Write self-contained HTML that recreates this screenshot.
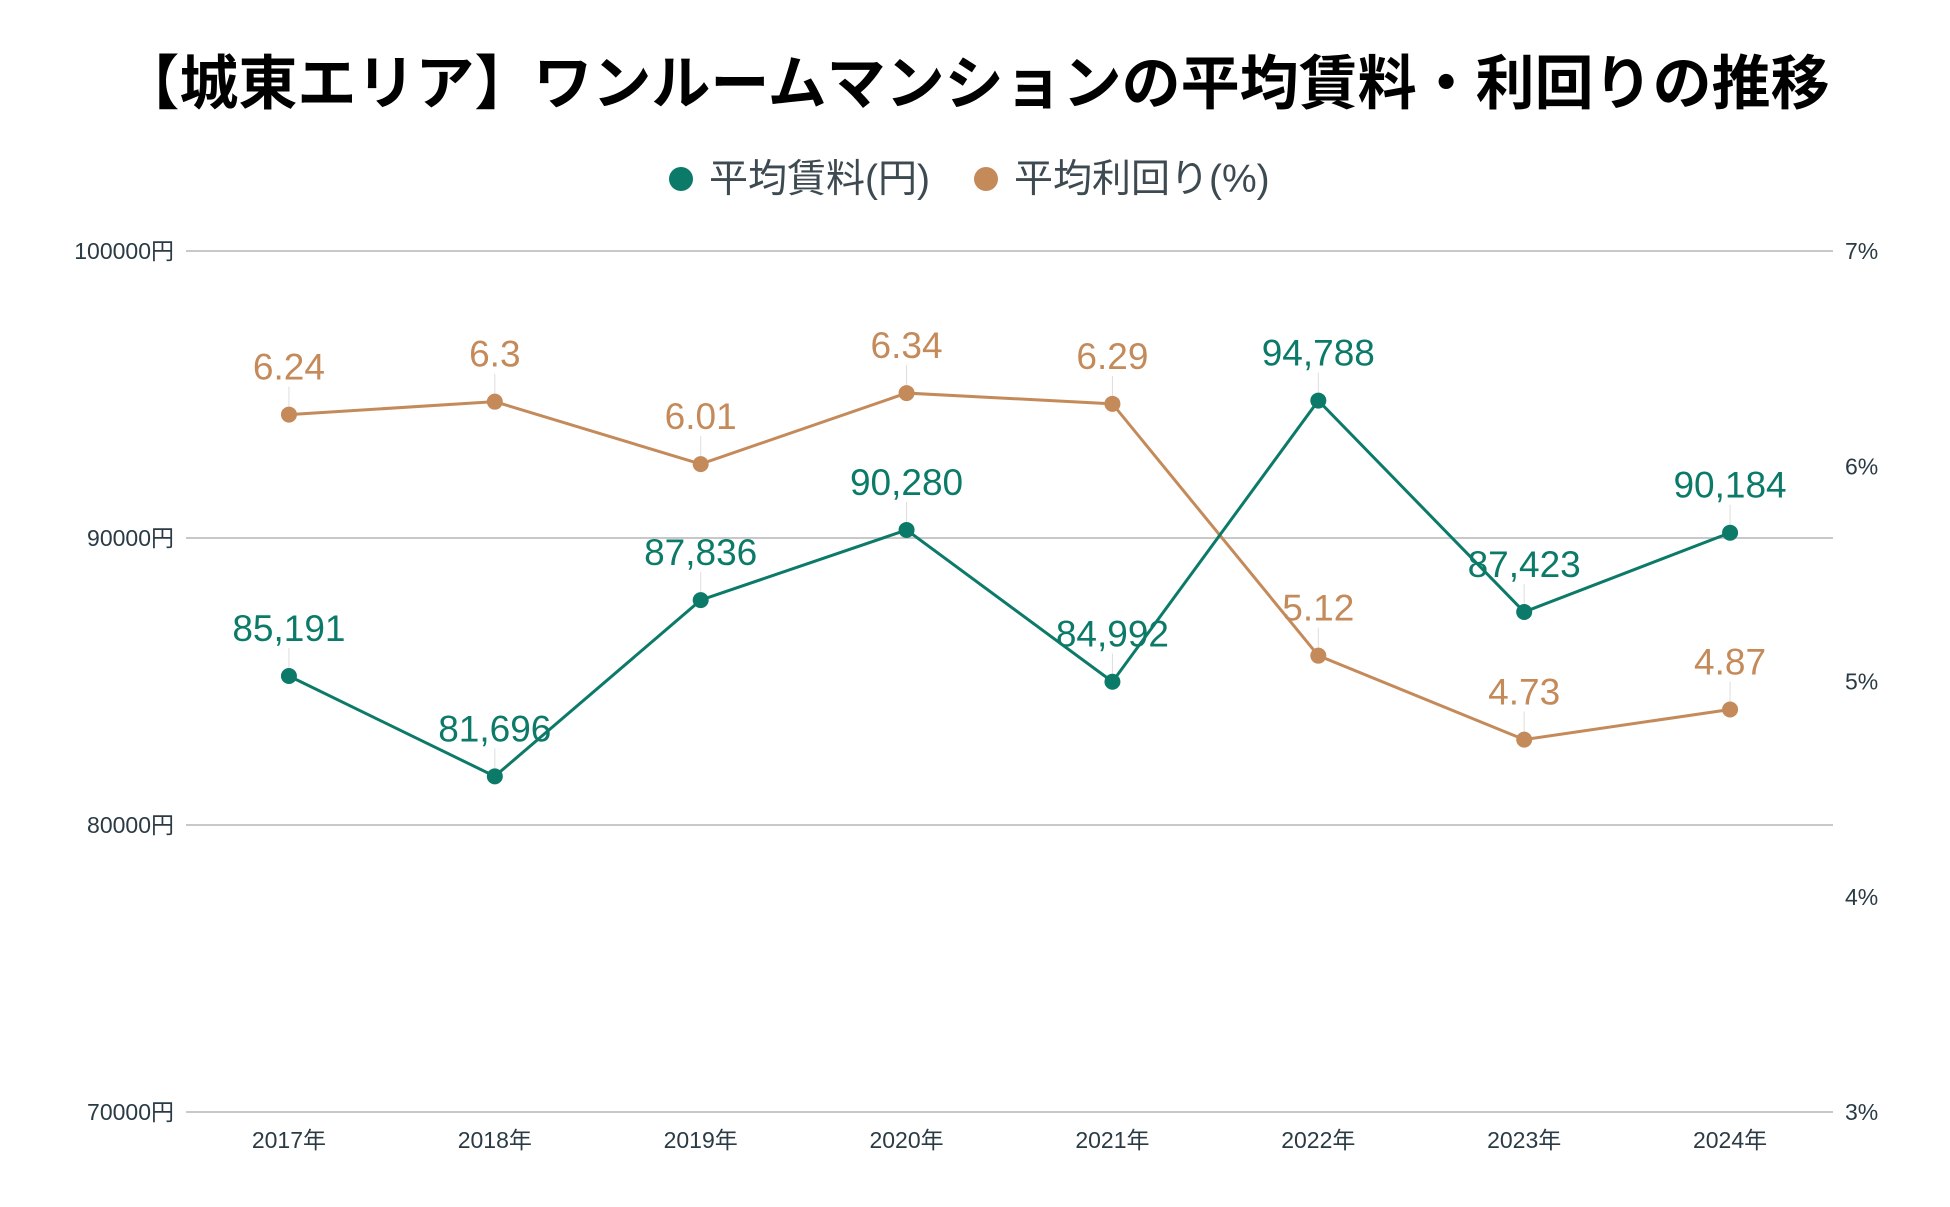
<!DOCTYPE html>
<html><head><meta charset="utf-8"><style>
body{margin:0;background:#fff;}
svg{display:block;font-family:"Liberation Sans","Noto Sans CJK JP",sans-serif;}
</style></head><body>
<svg id="chart" width="1950" height="1207" viewBox="0 0 1950 1207">
<text x="975" y="104" text-anchor="middle" font-size="59" font-weight="bold" fill="#000">【城東エリア】ワンルームマンションの平均賃料・利回りの推移</text>
<g>
<circle cx="681" cy="179" r="12" fill="#0c7a68"/>
<text x="709" y="192" font-size="39" fill="#3d4a52">平均賃料(円)</text>
<circle cx="986" cy="179" r="12" fill="#c48a5a"/>
<text x="1014" y="192" font-size="39" fill="#3d4a52">平均利回り(%)</text>
</g>
<g id="grid"></g><g id="axes"></g><g id="series"></g>
</svg>
<script>
const categories=["2017年","2018年","2019年","2020年","2021年","2022年","2023年","2024年"];
const rentValues=[85191,81696,87836,90280,84992,94788,87423,90184];
const yieldValues=[6.24,6.3,6.01,6.34,6.29,5.12,4.73,4.87];
const leftTicks=[70000,80000,90000,100000];
const rightTicks=[3,4,5,6,7];
const NS="http://www.w3.org/2000/svg";
const X0=186,X1=1833,YT=251,YB=1112;
const band=(X1-X0)/categories.length;
const xs=i=>X0+band*(i+0.5);
const yL=v=>YB-(v-70000)/30000*(YB-YT);
const yR=v=>YB-(v-3)/4*(YB-YT);
function mk(tag,attrs,parent){const e=document.createElementNS(NS,tag);for(const k in attrs)e.setAttribute(k,attrs[k]);parent.appendChild(e);return e;}
const grid=document.getElementById('grid'),axes=document.getElementById('axes'),ser=document.getElementById('series');
leftTicks.forEach(t=>{
  const l=mk('line',{x1:X0,x2:X1,y1:yL(t),y2:yL(t),stroke:'#c8c8c8','stroke-width':2},grid);
  
  
  const tx=mk('text',{x:174,y:yL(t)+8,'text-anchor':'end','font-size':23,fill:'#2a3b45'},axes);
  tx.textContent=t+'円';
  
  
});
rightTicks.forEach(t=>{
  const tx=mk('text',{x:1845,y:yR(t)+8,'font-size':23,fill:'#2a3b45'},axes);
  tx.textContent=t+'%';
  
  
});
categories.forEach((c,i)=>{
  const tx=mk('text',{x:xs(i),y:1148,'text-anchor':'middle','font-size':23,fill:'#2a3b45'},axes);
  tx.textContent=c;
  
  
});
function series(vals,yf,color,fmt,name){
  const pts=vals.map((v,i)=>xs(i)+','+yf(v)).join(' ');
  const pl=mk('polyline',{points:pts,fill:'none',stroke:color,'stroke-width':3},ser);
  
  
  vals.forEach((v,i)=>{
    const x=xs(i),y=yf(v);
    mk('line',{x1:x,x2:x,y1:y-8,y2:y-28,stroke:'#ddd','stroke-width':1},ser);
    const c=mk('circle',{cx:x,cy:y,r:8,fill:color},ser);
    
    
    const t=mk('text',{x:x,y:y-35,'text-anchor':'middle','font-size':37,fill:color},ser);
    t.textContent=fmt(v);
    
    
  });
}
series(yieldValues,yR,'#c48a5a',v=>String(v),'yield');
series(rentValues,yL,'#0c7a68',v=>v.toLocaleString('en-US'),'rent');
</script>
</body></html>
